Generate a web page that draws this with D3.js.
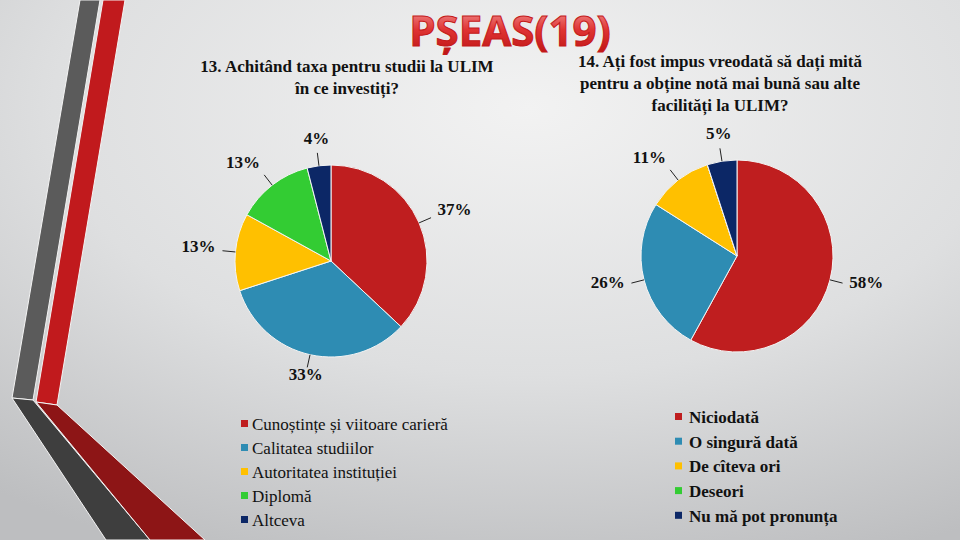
<html>
<head>
<meta charset="utf-8">
<style>
  body { margin: 0; background: #ddd; }
  svg { display: block; }
</style>
</head>
<body>
<svg id="chart" width="960" height="540"></svg>
<script src="https://cdn.jsdelivr.net/npm/d3@7"></script>
<script>
// --- data ---
let leftTitle = ["13. Achitând taxa pentru studii la ULIM", "în ce investiți?"]
let leftCategories = ["Cunoștințe și viitoare carieră", "Calitatea studiilor", "Autoritatea instituției", "Diplomă", "Altceva"]
let leftValues = [37, 33, 13, 13, 4]

let rightTitle = ["14. Ați fost impus vreodată să dați mită", "pentru a obține notă mai bună sau alte", "facilități la ULIM?"]
let rightCategories = ["Niciodată", "O singură dată", "De cîteva ori", "Deseori", "Nu mă pot pronunța"]
let rightValues = [58, 26, 11, 0, 5]

let sliceColors = ["#bf1e1f", "#2e8cb3", "#ffc000", "#33cc33", "#0c2766"]

let svg = d3.select("#chart")
let defs = svg.append("defs")

// background
let bg = defs.append("radialGradient").attr("id", "bg")
    .attr("cx", "55%").attr("cy", "20%").attr("r", "90%")
bg.append("stop").attr("offset", "0%").attr("stop-color", "#f2f2f2")
bg.append("stop").attr("offset", "55%").attr("stop-color", "#dedfe0")
bg.append("stop").attr("offset", "100%").attr("stop-color", "#bdbec0")
svg.append("rect").attr("width", 960).attr("height", 540).attr("fill", "url(#bg)")

// left decoration stripes
let deco = svg.append("g").attr("stroke", "#f4f4f4").attr("stroke-width", 1)
deco.append("polygon").attr("points", "80,0 100,0 33,400 12,398").attr("fill", "#5b5b5b")
deco.append("polygon").attr("points", "12,398 33,400 150,540 106,540").attr("fill", "#3e3e3e")
deco.append("polygon").attr("points", "103,0 125,0 57,405 36,402").attr("fill", "#c11a1d")
deco.append("polygon").attr("points", "36,402 57,405 205,540 150,540").attr("fill", "#8d1516")

// heading
let hg = defs.append("linearGradient").attr("id", "hg").attr("x1", 0).attr("y1", 0).attr("x2", 0).attr("y2", 1)
hg.append("stop").attr("offset", "0%").attr("stop-color", "#f7b0b0")
hg.append("stop").attr("offset", "50%").attr("stop-color", "#e03434")
hg.append("stop").attr("offset", "100%").attr("stop-color", "#b80f0f")
svg.append("text")
    .attr("x", 510).attr("y", 46)
    .attr("text-anchor", "middle")
    .style("font", "bold 42px 'Open Sans', sans-serif")
    .attr("fill", "url(#hg)")
    .attr("stroke", "#c41a1a").attr("stroke-width", 1)
    .text("PȘEAS(19)")

function drawPie(opts) {
    let g = svg.append("g").attr("fill", "#111")

    // title
    let t = g.append("text")
        .attr("text-anchor", "middle")
        .style("font", "bold 17px 'Liberation Serif', 'DejaVu Serif', serif")
    opts.title.forEach((line, i) => {
        t.append("tspan")
            .attr("x", opts.titleX)
            .attr("y", opts.titleY + i * 22)
            .text(line)
    })

    let r = opts.radius
    let pie = d3.pie().value(d => d).sort(null)
    let arcs = pie(opts.values)
    let arc = d3.arc().innerRadius(0).outerRadius(r)

    let body = g.append("g").attr("transform", `translate(${opts.cx},${opts.cy})`)
    body.selectAll("path")
        .data(arcs)
        .enter().append("path")
        .attr("d", arc)
        .attr("fill", (d, i) => sliceColors[i])
        .attr("stroke", "#f4f4f4")
        .attr("stroke-width", 1)

    // labels with leader lines (zero slices get none)
    let shown = arcs.filter(d => d.value > 0)
    let mid = d => (d.startAngle + d.endAngle) / 2
    let pt = (a, rr) => [Math.sin(a) * rr, -Math.cos(a) * rr]

    body.selectAll("polyline")
        .data(shown)
        .enter().append("polyline")
        .attr("points", d => [pt(mid(d), r), pt(mid(d), r + 13)].join(" "))
        .attr("fill", "none")
        .attr("stroke", "#222")
        .attr("stroke-width", 1)

    body.selectAll("text.lbl")
        .data(shown)
        .enter().append("text")
        .attr("class", "lbl")
        .attr("x", d => pt(mid(d), r + 20)[0])
        .attr("y", d => pt(mid(d), r + 24)[1] - 4)
        .attr("dy", "0.35em")
        .attr("text-anchor", d => {
            let s = Math.sin(mid(d))
            return s > 0.3 ? "start" : (s < -0.3 ? "end" : "middle")
        })
        .style("font", "bold 17px 'Liberation Serif', 'DejaVu Serif', serif")
        .text(d => d.value + "%")

    // legend
    let leg = g.append("g").attr("transform", `translate(${opts.legX},${opts.legY})`)
    let row = leg.selectAll("g")
        .data(opts.categories)
        .enter().append("g")
        .attr("transform", (d, i) => `translate(0,${i * opts.legStep})`)
    row.append("rect")
        .attr("x", 0).attr("y", -4)
        .attr("width", 7).attr("height", 7)
        .attr("fill", (d, i) => sliceColors[i])
    row.append("text")
        .attr("x", opts.legText)
        .attr("dy", "0.35em")
        .style("font", opts.legWeight + " 17px 'Liberation Serif', 'DejaVu Serif', serif")
        .text(d => d)
}

drawPie({
    title: leftTitle, titleX: 347, titleY: 72,
    values: leftValues, categories: leftCategories,
    cx: 331, cy: 261, radius: 96,
    legX: 241, legY: 424, legStep: 24, legText: 11, legWeight: "normal"
})

drawPie({
    title: rightTitle, titleX: 720, titleY: 67,
    values: rightValues, categories: rightCategories,
    cx: 737, cy: 256, radius: 96,
    legX: 675, legY: 417, legStep: 24.7, legText: 14, legWeight: "bold"
})
</script>
</body>
</html>
